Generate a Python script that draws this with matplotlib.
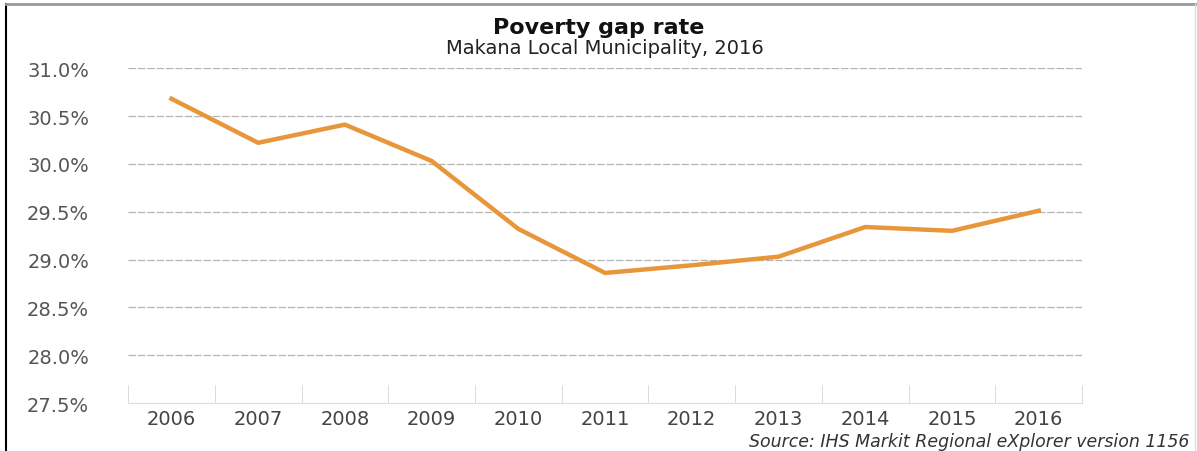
import matplotlib.pyplot as plt
from matplotlib.lines import Line2D

# poverty gap rate, Makana Local Municipality
years = ['2006', '2007', '2008', '2009', '2010', '2011',
         '2012', '2013', '2014', '2015', '2016']
gap_rate = [30.68, 30.22, 30.41, 30.03, 29.32, 28.86,
            28.94, 29.03, 29.34, 29.30, 29.51]
yticks = [27.5, 28.0, 28.5, 29.0, 29.5, 30.0, 30.5, 31.0]

fig = plt.figure(figsize=(11.97, 4.52), dpi=100)
ax = fig.add_axes([0.107, 0.106, 0.797, 0.741])

x = list(range(len(years)))
ax.plot(x, gap_rate, color='#E8963A', lw=3.2, solid_joinstyle='round', zorder=3)

ax.set_xlim(-0.5, len(years) - 0.5)
ax.set_ylim(27.5, 31.0)
ax.set_yticks(yticks)
ax.set_yticklabels(['%.1f%%' % v for v in yticks])
ax.set_xticks(x)
ax.set_xticklabels(years)

# dashed horizontal grid
for v in yticks[1:]:
    ax.axhline(v, color='#b4b4b4', lw=0.9, ls=(0, (6, 1.5)), zorder=1)

for s in ['top', 'right', 'left']:
    ax.spines[s].set_visible(False)
ax.spines['bottom'].set_color('#dcdcdc')

ax.tick_params(axis='y', length=0, pad=28, labelsize=14, labelcolor='#555555')
ax.tick_params(axis='x', which='major', length=0, pad=4, labelsize=14, labelcolor='#444444')
ax.set_xticks([i - 0.5 for i in range(len(years) + 1)], minor=True)
ax.tick_params(axis='x', which='minor', direction='in', length=13, color='#d4d4d4')

fig.text(0.5, 0.937, 'Poverty gap rate', ha='center', va='center',
         fontsize=16, fontweight='bold', color='#111111')
fig.text(0.505, 0.892, 'Makana Local Municipality, 2016', ha='center', va='center',
         fontsize=14, color='#222222')
fig.text(0.994, 0.022, 'Source: IHS Markit Regional eXplorer version 1156',
         ha='right', va='center', fontsize=12.5, style='italic', color='#333333')

# frame around the chart
fig.add_artist(Line2D([0.005, 0.005], [0, 0.99], color='black', lw=1.5, transform=fig.transFigure))
fig.add_artist(Line2D([0.005, 1.0], [0.988, 0.988], color='#999999', lw=2, transform=fig.transFigure))
fig.add_artist(Line2D([0.998, 0.998], [0, 0.99], color='#dddddd', lw=1, transform=fig.transFigure))

fig.savefig('out.png', dpi=100)
